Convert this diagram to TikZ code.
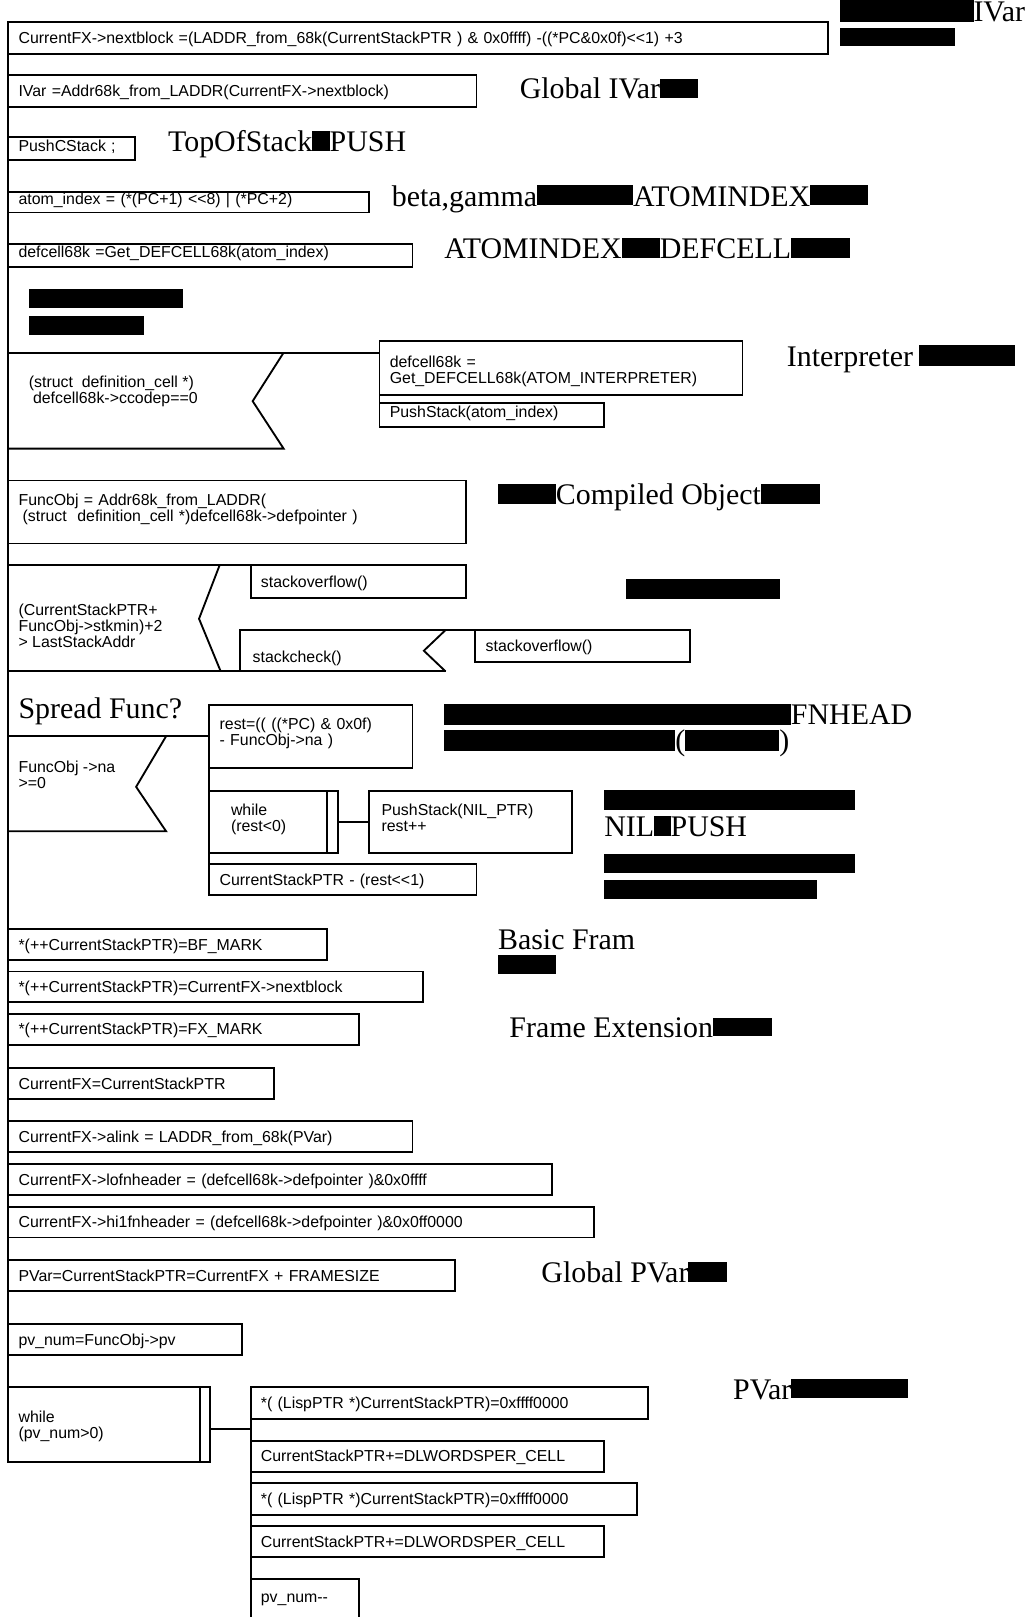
\documentclass[tikz,border=0pt]{standalone}
\usepackage{fontspec}
\newfontfamily\codef{Liberation Sans}[Ligatures=TeXOff]
\newfontfamily\labf{Liberation Serif}[Ligatures=TeXOff]
\newcommand\bxnode[7][]{%
  \pgfmathsetmacro\bxw{#5-#3}%
  \pgfmathsetmacro\bxh{#6-#4}%
  \pgfmathsetmacro\bxt{#5-#3-20}%
  \node[bx, minimum width=\bxw pt, minimum height=\bxh pt, text width=\bxt pt, #1] (#2) at (#3,#4) {#7};}
\tikzset{
  ln/.style={line width=1.8pt},
  txt/.style={font=\codef\fontsize{15.4}{15.5}\selectfont, inner sep=0pt, outer sep=0pt},
  bx/.style={txt, draw, line width=1.8pt, anchor=north west, align=left, text height=11pt, text depth=0pt},
  up/.style={text depth=7pt},
  lab/.style={font=\labf\fontsize{29}{30}\selectfont, anchor=base west, inner sep=0pt, outer sep=0pt},
}
\begin{document}
\begin{tikzpicture}[x=1pt,y=-1pt]
\useasboundingbox (0,0) rectangle (1003,1568);
% top sequence
\bxnode{b1}{8}{21}{803}{52}{CurrentFX->nextblock =(LADDR\_from\_68k(CurrentStackPTR ) \& 0x0ffff) -((*PC\&0x0f)<<1) +3}
\bxnode{b2}{8}{73}{462}{104}{IVar =Addr68k\_from\_LADDR(CurrentFX->nextblock)}
\bxnode[text depth=5pt]{b3}{8}{133}{131}{155}{PushCStack ;}
\bxnode[text depth=6pt]{b4}{8}{186}{358}{206}{atom\_index = (*(PC+1) <<8) | (*PC+2)}
\bxnode[text depth=8pt]{b5}{8}{237}{400}{259}{defcell68k =Get\_DEFCELL68k(atom\_index)}
\fill (28,280) rectangle (177,299);
\fill (28,306) rectangle (140,325);
% condition 1
\coordinate (c1a) at (8,342);
\coordinate (c1b) at (275,342);
\coordinate (c1n) at (245,389);
\coordinate (c1c) at (275,435);
\coordinate (c1d) at (8,435);
\bxnode[text depth=12pt]{d1}{368}{331}{720}{383}{defcell68k =\\Get\_DEFCELL68k(ATOM\_INTERPRETER)}
\bxnode[up]{d2}{368}{391}{586}{414}{PushStack(atom\_index)}
\draw[ln] (c1a) -- (c1a -| d1.west);
\draw[ln] (c1b) -- (c1n) -- (c1c) -- (c1d);
\draw[ln] (d1.north west) -- (d2.south west);
\node[txt, anchor=west, align=left] (c1t) at (28,380) {(struct\ \ definition\_cell *)\\\hspace*{4pt}defcell68k->ccodep==0};
% FuncObj
\bxnode[text depth=23pt]{f1}{8}{466}{452}{527}{FuncObj = Addr68k\_from\_LADDR(\\\hspace*{4pt}(struct\ \ definition\_cell *)defcell68k->defpointer )}
% condition 2
\coordinate (c2a) at (8,548);
\coordinate (c2b) at (213,548);
\coordinate (c2n) at (193,600);
\coordinate (c2c) at (214,651);
\coordinate (c2d) at (8,651);
\bxnode{s1}{243}{548}{452}{580}{stackoverflow()}
\bxnode{s2}{461}{611}{669}{642}{stackoverflow()}
\coordinate (k0) at (233,651);
\coordinate (k1) at (233,611);
\coordinate (k2) at (432,611);
\coordinate (kn) at (411,631);
\coordinate (k3) at (432,651);
\draw[ln] (c2a) -- (c2a -| s1.west);
\draw[ln] (c2b) -- (c2n) -- (c2c);
\draw[ln] (c2d) -- (k3);
\draw[ln] (k0) -- (k1) -- (k1 -| s2.west);
\draw[ln] (k2) -- (kn) -- (k3);
\node[txt, anchor=west, align=left] (c2t) at (18,606.5) {(CurrentStackPTR+\\FuncObj->stkmin)+2\\> LastStackAddr};
\node[txt, anchor=west] (kt) at (245,638) {stackcheck()};
\fill (607,561) rectangle (756,581);
% condition 3
\node[lab] (sf) at (18,697) {Spread Func?};
\coordinate (c3a) at (8,714);
\coordinate (c3b) at (161,714);
\coordinate (c3n) at (132,763);
\coordinate (c3c) at (161,806);
\coordinate (c3d) at (8,806);
\bxnode[text depth=25pt]{r1}{203}{684}{400}{745}{rest=(( ((*PC) \& 0x0f)\\- FuncObj->na )}
\draw[ln] (c3a) -- (c3a -| r1.west);
\draw[ln] (c3b) -- (c3n) -- (c3c) -- (c3d);
\node[txt, anchor=west, align=left] (c3t) at (18,751) {FuncObj ->na\\>=0};
\bxnode[text width=83pt, text depth=24pt]{w1}{203}{767}{328}{827}{while\\(rest<0)}
\draw[ln] (317,767) -- (317,827);
\bxnode[text width=173pt, text depth=24pt]{p1}{358}{767}{555}{827}{PushStack(NIL\_PTR)\\rest++}
\draw[ln] (w1.east) -- (p1.west);
\bxnode{cs}{203}{838}{462}{868}{CurrentStackPTR - (rest<<1)}
\draw[ln] (r1.north west) -- (cs.south west);
% lower sequence
\bxnode{m1}{8}{901}{317}{931}{*(++CurrentStackPTR)=BF\_MARK}
\bxnode{m2}{8}{942}{410}{972}{*(++CurrentStackPTR)=CurrentFX->nextblock}
\bxnode{m3}{8}{983}{348}{1013}{*(++CurrentStackPTR)=FX\_MARK}
\bxnode{m4}{8}{1036}{266}{1066}{CurrentFX=CurrentStackPTR}
\bxnode{m5}{8}{1087}{400}{1117}{CurrentFX->alink = LADDR\_from\_68k(PVar)}
\bxnode{m6}{8}{1129}{535}{1159}{CurrentFX->lofnheader = (defcell68k->defpointer )\&0x0ffff}
\bxnode{m7}{8}{1170}{576}{1200}{CurrentFX->hi1fnheader = (defcell68k->defpointer )\&0x0ff0000}
\bxnode{m8}{8}{1222}{441}{1252}{PVar=CurrentStackPTR=CurrentFX + FRAMESIZE}
\bxnode{m9}{8}{1284}{235}{1314}{pv\_num=FuncObj->pv}
\bxnode[text depth=15pt]{w2}{8}{1345}{204}{1418}{while\\(pv\_num>0)}
\draw[ln] (194,1345) -- (194,1418);
\coordinate (sp2top) at (243,1345);
\coordinate (sp2bot) at (243,1575);
\draw[ln] (sp2top) -- (sp2bot);
\draw[ln] ([yshift=-4.5pt]w2.east) -- ([yshift=-4.5pt]w2.east -| sp2top);
\bxnode{q1}{243}{1345}{628}{1376}{*( (LispPTR *)CurrentStackPTR)=0xffff0000}
\bxnode{q2}{243}{1397}{586}{1427}{CurrentStackPTR+=DLWORDSPER\_CELL}
\bxnode{q3}{243}{1438}{618}{1469}{*( (LispPTR *)CurrentStackPTR)=0xffff0000}
\bxnode{q4}{243}{1480}{586}{1510}{CurrentStackPTR+=DLWORDSPER\_CELL}
\bxnode[text depth=7pt]{q5}{243}{1531}{348}{1572}{pv\_num-{}-}
\draw[ln] (b1.north west) -- (w2.south west);
% labels
\node[lab] (l1) at (815,21) {\rule{129pt}{21pt}IVar};
\fill (815,27) rectangle (926,45);
\node[lab] (l2) at (504,96) {Global IVar\rule[1pt]{37pt}{18pt}};
\node[lab] (l3) at (163,147) {TopOfStack\rule[1pt]{17pt}{19pt}PUSH};
\node[lab] (l4) at (380,200) {beta,gamma\rule[1pt]{93pt}{20pt}ATOMINDEX\rule[1pt]{56pt}{20pt}};
\node[lab] (l5) at (431,251) {ATOMINDEX\rule[1pt]{37pt}{19pt}DEFCELL\rule[1pt]{57pt}{19pt}};
\node[lab] (l6) at (763,355) {Interpreter\hspace{6pt}\rule{93pt}{20pt}};
\node[lab] (l7) at (483,489) {\rule{56pt}{20pt}Compiled Object\rule{57pt}{20pt}};
\node[lab] (l8) at (431,703) {\rule{336pt}{20pt}FNHEAD};
\node[lab] (l9) at (431,728) {\rule{224pt}{20pt}(\rule{91pt}{20pt})};
\fill (586,766) rectangle (829,785);
\node[lab] (l10) at (586,811) {NIL\rule{16pt}{20pt}PUSH};
\fill (586,828) rectangle (829,847);
\fill (586,853) rectangle (792,872);
\node[lab] (l11) at (483,921) {Basic Fram};
\fill (483,926) rectangle (539,944);
\node[lab] (l12) at (494,1006) {Frame Extension\rule[1pt]{57pt}{18pt}};
\node[lab] (l13) at (525,1244) {Global PVar\rule[1pt]{37pt}{19pt}};
\node[lab] (l14) at (711,1357) {PVar\rule[1pt]{113pt}{19pt}};
\end{tikzpicture}
\end{document}
